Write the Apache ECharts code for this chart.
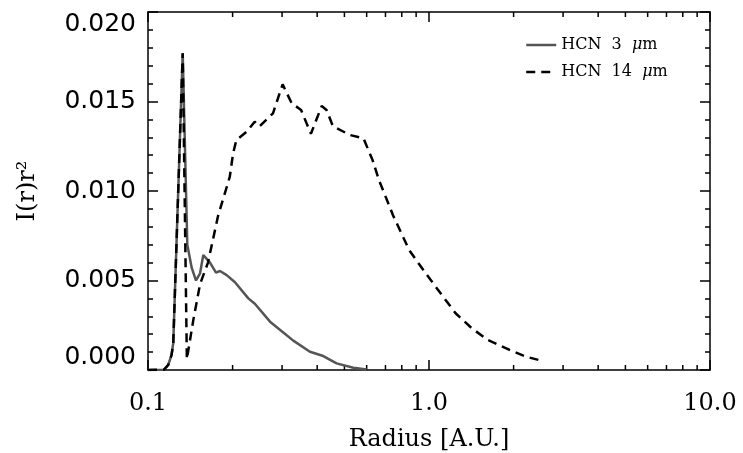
<!DOCTYPE html>
<html>
<head>
<meta charset="utf-8">
<script src="https://cdn.jsdelivr.net/npm/echarts@6/dist/echarts.min.js"></script>
<style>html,body{margin:0;padding:0;background:#fff}#c{width:743px;height:453px}</style>
</head>
<body>
<div id="c"></div>
<script>
// HCN 3 micron profile
const r3 = [0.100, 0.114, 0.118, 0.1213, 0.123, 0.1329, 0.138, 0.1431, 0.1482, 0.1532, 0.1573, 0.1662, 0.1746, 0.1804, 0.1905, 0.204, 0.2275, 0.240, 0.2718, 0.303, 0.3289, 0.377, 0.4206, 0.469, 0.538, 0.600];
const i3 = [0, 0.00002, 0.00028, 0.00084, 0.0015, 0.0177, 0.0070, 0.0057, 0.0050, 0.0054, 0.00642, 0.0060, 0.00544, 0.00553, 0.0053, 0.0049, 0.0040, 0.0037, 0.0027, 0.0021, 0.00164, 0.00102, 0.00078, 0.00037, 0.00013, 0.00003];
// HCN 14 micron profile
const r14 = [0.100, 0.114, 0.118, 0.1213, 0.123, 0.1329, 0.1375, 0.145, 0.1532, 0.1635, 0.1775, 0.1955, 0.2008, 0.2063, 0.2241, 0.2396, 0.249, 0.2785, 0.3014, 0.3246, 0.3505, 0.380, 0.4152, 0.4318, 0.4547, 0.5223, 0.5845, 0.6297, 0.664, 0.7445, 0.85, 0.9734, 1.11, 1.2435, 1.42, 1.62, 1.935, 2.22, 2.47];
const i14 = [0, 0.00002, 0.00028, 0.00084, 0.0015, 0.0177, 0.0006, 0.0028, 0.0048, 0.0060, 0.0086, 0.0108, 0.0121, 0.01285, 0.0133, 0.01387, 0.0136, 0.01434, 0.01596, 0.0149, 0.01453, 0.0132, 0.01475, 0.01453, 0.01363, 0.01313, 0.01294, 0.01173, 0.0106, 0.00865, 0.0067, 0.0054, 0.0042, 0.00317, 0.00233, 0.00168, 0.00112, 0.00074, 0.00055];
const seriesNames = ['HCN 3 μm', 'HCN 14 μm'];
const xMinorTicks = [0.2, 0.3, 0.4, 0.5, 0.6, 0.7, 0.8, 0.9, 2, 3, 4, 5, 6, 7, 8, 9];
const xTitle = 'Radius [A.U.]';
const yTitle = 'I(r)r²';

const chart = echarts.init(document.getElementById('c'), null, {renderer: 'canvas'});
const tickStyle = {color: '#000', width: 1.5};
const xCommon = {
  type: 'log', logBase: 10, min: 0.1, max: 10,
  axisLine: {show: true, onZero: false, lineStyle: tickStyle},
  axisTick: {show: true, inside: true, length: 10, lineStyle: tickStyle},
  splitLine: {show: false}
};
const yCommon = {
  type: 'value', min: 0, max: 0.02, interval: 0.005,
  axisLine: {show: true, onZero: false, lineStyle: tickStyle},
  axisTick: {show: true, inside: true, length: 10, lineStyle: tickStyle},
  minorTick: {show: true, splitNumber: 5, length: 5, lineStyle: tickStyle},
  splitLine: {show: false}, minorSplitLine: {show: false}
};
chart.setOption({
  animation: false,
  backgroundColor: '#fff',
  grid: {left: 148, right: 33, top: 12, bottom: 83, containLabel: false, outerBoundsMode: 'none'},
  legend: {
    data: seriesNames, orient: 'vertical', left: 520, top: 32,
    itemWidth: 30, itemHeight: 14, itemGap: 11,
    itemStyle: {opacity: 0},
    lineStyle: {width: 2.5},
    formatter: n => n.replace(' μm', '  {i|μ}m').replace('HCN ', 'HCN  '),
    textStyle: {fontFamily: 'DejaVu Serif', fontSize: 16, color: '#000',
      rich: {i: {fontFamily: 'DejaVu Serif', fontStyle: 'italic', fontSize: 16, color: '#000'}}}
  },
  xAxis: [
    Object.assign({}, xCommon, {
      position: 'bottom',
      name: xTitle, nameLocation: 'middle', nameGap: 58,
      nameTextStyle: {fontFamily: 'DejaVu Serif', fontSize: 24, color: '#000'},
      axisLabel: {show: true, margin: 22, fontFamily: 'DejaVu Serif', fontSize: 24, color: '#000',
        showMinLabel: true, showMaxLabel: true, hideOverlap: false,
        formatter: v => Number(v).toFixed(1)}
    }),
    Object.assign({}, xCommon, {position: 'top', axisLabel: {show: false}})
  ],
  yAxis: [
    Object.assign({}, yCommon, {
      position: 'left',
      name: yTitle, nameLocation: 'middle', nameGap: 108, nameRotate: 90,
      nameTextStyle: {fontFamily: 'DejaVu Serif', fontSize: 24, color: '#000'},
      axisLabel: {show: true, margin: 12, fontFamily: 'DejaVu Sans', fontSize: 25, color: '#000',
        showMinLabel: true, showMaxLabel: true,
        verticalAlignMinLabel: 'bottom', verticalAlignMaxLabel: 'top',
        formatter: v => Number(v).toFixed(3)}
    }),
    Object.assign({}, yCommon, {position: 'right', axisLabel: {show: false}})
  ],
  series: [
    {
      name: seriesNames[0], type: 'line', xAxisIndex: 0, yAxisIndex: 0,
      data: r3.map((r, k) => [r, i3[k]]),
      symbol: 'none', showSymbol: false, smooth: false,
      lineStyle: {color: '#555', width: 2.5, type: 'solid'},
      itemStyle: {color: '#555'}
    },
    {
      name: seriesNames[1], type: 'line', xAxisIndex: 0, yAxisIndex: 0,
      data: r14.map((r, k) => [r, i14[k]]),
      symbol: 'none', showSymbol: false, smooth: false,
      lineStyle: {color: '#000', width: 2.5, type: [9, 6]},
      itemStyle: {color: '#000'}
    },
    {
      type: 'custom', xAxisIndex: 0, yAxisIndex: 0, silent: true,
      data: xMinorTicks.map(v => [v, 0]),
      renderItem: (params, api) => {
        const x = api.value(0);
        const b = api.coord([x, 0]);
        const t = api.coord([x, 0.02]);
        const st = {stroke: '#000', lineWidth: 1.5};
        return {type: 'group', children: [
          {type: 'line', shape: {x1: b[0], y1: b[1], x2: b[0], y2: b[1] - 5}, style: st},
          {type: 'line', shape: {x1: t[0], y1: t[1], x2: t[0], y2: t[1] + 5}, style: st}
        ]};
      }
    }
  ]
});
</script>
</body>
</html>
